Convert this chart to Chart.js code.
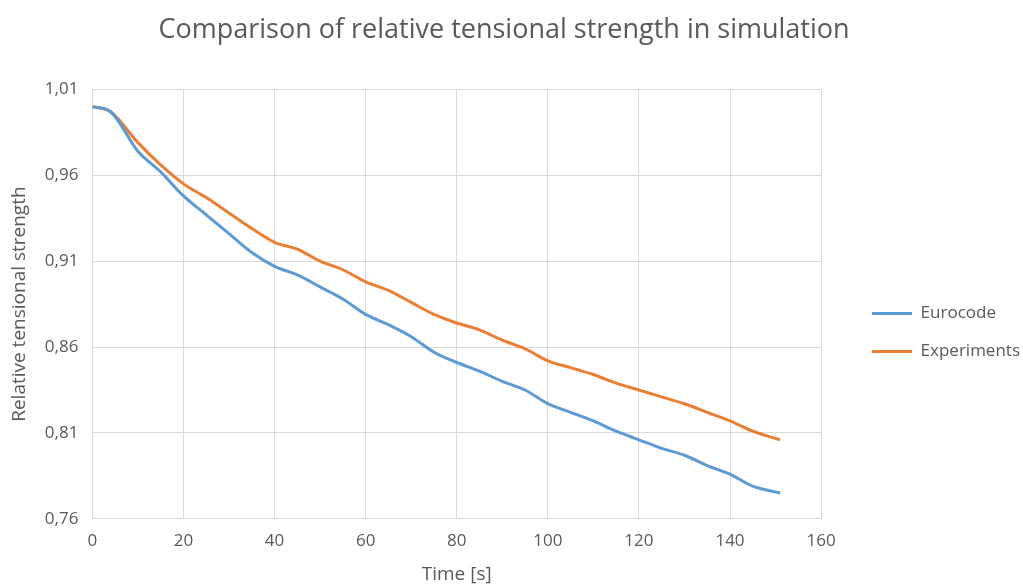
<!DOCTYPE html>
<html>
<head>
<meta charset="utf-8">
<script src="https://cdn.jsdelivr.net/npm/chart.js@4/dist/chart.umd.min.js"></script>
<style>
html,body{margin:0;padding:0;background:#fff;overflow:hidden;}
#c{display:block;}
</style>
</head>
<body>
<canvas id="c" width="1023" height="586" style="width:1023px;height:586px;"></canvas>
<script>
const timeSeconds = [0,4,10,15,20,25,30,35,40,45,50,55,60,65,70,75,80,85,90,95,100,105,110,115,120,125,130,135,140,145,151];
const eurocode = [1.000,0.997,0.974,0.962,0.948,0.937,0.926,0.915,0.907,0.902,0.895,0.888,0.879,0.873,0.866,0.857,0.851,0.846,0.840,0.835,0.827,0.822,0.817,0.811,0.806,0.801,0.797,0.791,0.786,0.779,0.775];
const experiments = [1.000,0.997,0.979,0.966,0.955,0.947,0.938,0.929,0.921,0.917,0.910,0.905,0.898,0.893,0.886,0.879,0.874,0.870,0.864,0.859,0.852,0.848,0.844,0.839,0.835,0.831,0.827,0.822,0.817,0.811,0.806];
const seriesNames = ["Eurocode","Experiments"];
const xTicks = [0,20,40,60,80,100,120,140,160];
const yTicks = [0.76,0.81,0.86,0.91,0.96,1.01];

const FONT = "'Open Sans', 'Liberation Sans', sans-serif";
const TXT = '#595959';
const GRID = '#d9d9d9';

const toPts = arr => arr.map((v,i)=>({x:timeSeconds[i], y:v}));

// Moves the legend so that its first line starts a fixed gap after the plot area.
const legendShift = {
  id: 'legendShift',
  afterLayout(chart) {
    const lg = chart.legend;
    if (!lg) return;
    const targetLeft = chart.chartArea.right + 30;
    const d = targetLeft - lg.left;
    lg.left += d; lg.right += d;
    if (lg.legendHitBoxes) lg.legendHitBoxes.forEach(h => { h.left += d; });
  }
};

new Chart(document.getElementById('c'), {
  type: 'line',
  data: {
    datasets: [
      {label: seriesNames[0], data: toPts(eurocode), borderColor:'#5b9bd5', backgroundColor:'#5b9bd5', borderWidth:3, pointRadius:0, cubicInterpolationMode:'monotone'},
      {label: seriesNames[1], data: toPts(experiments), borderColor:'#ed7d31', backgroundColor:'#ed7d31', borderWidth:3, pointRadius:0, cubicInterpolationMode:'monotone'}
    ]
  },
  plugins: [legendShift],
  options: {
    responsive: false,
    animation: false,
    devicePixelRatio: 1,
    layout: {padding: {left: 8, right: 23, top: 14, bottom: 0}},
    plugins: {
      title: {display:true, text:'Comparison of relative tensional strength in simulation', color:TXT, font:{family:FONT, size:27, weight:'normal'}, padding:{top:0,bottom:43}},
      legend: {
        position:'right', align:'center',
        title: {display:true, text:'', font:{family:FONT, size:16}, padding:{top:46, bottom:0}},
        labels:{
          boxWidth:40, boxHeight:3, padding:21, color:TXT, font:{family:FONT, size:17},
          generateLabels: chart => chart.data.datasets.map((d,i)=>({text:d.label, fillStyle:d.borderColor, strokeStyle:d.borderColor, lineWidth:0, hidden:false, datasetIndex:i, fontColor:TXT}))
        }
      },
      tooltip:{enabled:false}
    },
    scales: {
      x: {
        type:'linear', min:0, max:160,
        afterBuildTicks: s => { s.ticks = xTicks.map(v=>({value:v})); },
        ticks:{color:TXT, font:{family:FONT, size:17}, padding:12, maxRotation:0, autoSkip:false},
        grid:{color:GRID, lineWidth:1, drawTicks:false},
        border:{color:GRID, width:1},
        title:{display:true, text:'Time [s]', color:TXT, font:{family:FONT, size:19}, padding:{top:0,bottom:0}}
      },
      y: {
        type:'linear', min:0.76, max:1.01,
        afterBuildTicks: s => { s.ticks = yTicks.map(v=>({value:v})); },
        ticks:{color:TXT, font:{family:FONT, size:17}, padding:14, autoSkip:false, callback: v => Number(v).toFixed(2).replace('.',',')},
        grid:{color:GRID, lineWidth:1, drawTicks:false},
        border:{color:GRID, width:1},
        title:{display:true, text:'Relative tensional strength', color:TXT, font:{family:FONT, size:19}, padding:{top:0,bottom:0}}
      }
    }
  }
});
</script>
</body>
</html>
